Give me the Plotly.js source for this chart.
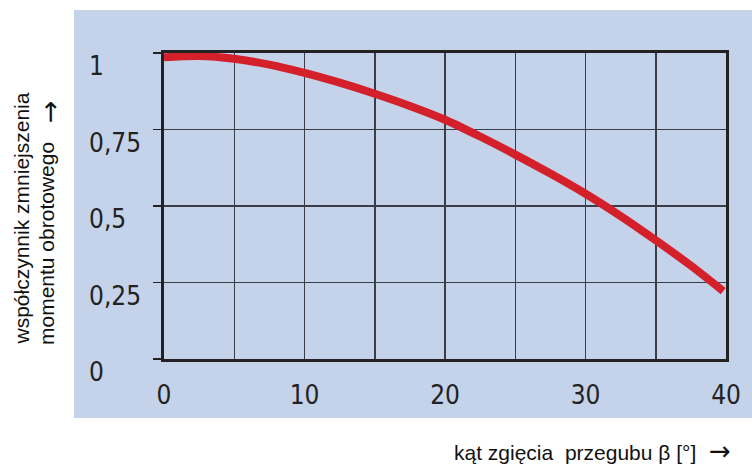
<!DOCTYPE html>
<html>
<head>
<meta charset="utf-8">
<script src="https://cdn.plot.ly/plotly-3.0.1.min.js"></script>
<style>html,body{margin:0;padding:0;background:#fff;}#chart{width:752px;height:465px;}</style>
</head>
<body>
<div id="chart"></div>
<script>
// Data
var angle = [0, 2.5, 5, 7.5, 10, 12.5, 15, 17.5, 20, 22.5, 25, 27.5, 30, 32.5, 35, 37.5, 39.8];
var factor = [0.986, 0.99, 0.981, 0.962, 0.935, 0.903, 0.867, 0.827, 0.782, 0.727, 0.668, 0.606, 0.540, 0.467, 0.388, 0.305, 0.222];
var xTickVals = [0, 10, 20, 30, 40];
var xTickText = ['0', '10', '20', '30', '40'];
var yTickVals = [0, 0.25, 0.5, 0.75, 1];
var yTickText = ['0', '0,25', '0,5', '0,75', '1'];
var yTitleLine1 = 'współczynnik zmniejszenia';
var yTitleLine2 = 'momentu obrotowego';
var xTitle = 'kąt zgięcia\u00a0 przegubu β [°]';
var arrowGlyph = '→';

var W = 752, H = 465;
var m = {l: 164, r: 26, t: 53, b: 106};
var pw = W - m.l - m.r, ph = H - m.t - m.b;
function px(x) { return (x - m.l) / pw; }
function py(y) { return (H - m.b - y) / ph; }

var narrow = 'Liberation Sans Narrow, Arial Narrow, DejaVu Sans Condensed, sans-serif';
var sans = 'Liberation Sans, Arial, sans-serif';
var blue = '#c4d2ea';

var annotations = [];
yTickVals.forEach(function (v, i) {
  annotations.push({
    xref: 'paper', yref: 'y', x: px(87), y: v, xanchor: 'left', yanchor: 'middle',
    yshift: -13, text: yTickText[i], showarrow: false,
    font: {family: narrow, size: 26, color: '#222'}
  });
});
annotations.push({
  xref: 'paper', yref: 'paper', x: px(7), y: py(347), xanchor: 'left', yanchor: 'bottom',
  textangle: -90, text: yTitleLine1, showarrow: false,
  font: {family: sans, size: 21, color: '#111'}
});
annotations.push({
  xref: 'paper', yref: 'paper', x: px(33), y: py(347), xanchor: 'left', yanchor: 'bottom',
  textangle: -90, text: yTitleLine2, showarrow: false,
  font: {family: sans, size: 21, color: '#111'}
});
annotations.push({
  xref: 'paper', yref: 'paper', x: px(32), y: py(98), xanchor: 'left', yanchor: 'top',
  textangle: -90, text: arrowGlyph, showarrow: false,
  font: {family: 'DejaVu Sans', size: 27, color: '#111'}
});
annotations.push({
  xref: 'paper', yref: 'paper', x: px(698), y: py(452), xanchor: 'right', yanchor: 'middle',
  text: xTitle, showarrow: false,
  font: {family: sans, size: 21, color: '#111'}
});
annotations.push({
  xref: 'paper', yref: 'paper', x: px(733), y: py(451), xanchor: 'right', yanchor: 'middle',
  text: arrowGlyph, showarrow: false,
  font: {family: 'DejaVu Sans', size: 26, color: '#111'}
});

var trace = {
  x: angle, y: factor, type: 'scatter', mode: 'lines',
  line: {color: '#d4202a', width: 8, shape: 'spline', smoothing: 0.8},
  hoverinfo: 'skip'
};

var layout = {
  width: W, height: H, margin: m,
  paper_bgcolor: '#ffffff', plot_bgcolor: blue,
  showlegend: false,
  xaxis: {
    range: [0, 40], tickvals: xTickVals, ticktext: xTickText,
    showgrid: true, gridcolor: '#3a3d45', gridwidth: 1.5,
    minor: {dtick: 5, tick0: 0, showgrid: true, gridcolor: '#3a3d45', gridwidth: 1.5},
    showline: true, mirror: true, linecolor: '#222', linewidth: 3,
    ticks: '', zeroline: false, ticklabelstandoff: 11,
    tickfont: {family: narrow, size: 26, color: '#222'}
  },
  yaxis: {
    range: [0, 1], tickvals: yTickVals, showticklabels: false,
    showgrid: true, gridcolor: '#3a3d45', gridwidth: 1.5,
    showline: true, mirror: true, linecolor: '#222', linewidth: 3,
    ticks: 'outside', ticklen: 8, tickwidth: 1.5, tickcolor: '#222', zeroline: false
  },
  shapes: [{
    type: 'rect', xref: 'paper', yref: 'paper', layer: 'below',
    x0: px(74), x1: px(752), y0: py(418), y1: py(10),
    fillcolor: blue, line: {width: 0}
  }],
  annotations: annotations
};

Plotly.newPlot('chart', [trace], layout, {staticPlot: true, displayModeBar: false});
</script>
</body>
</html>
